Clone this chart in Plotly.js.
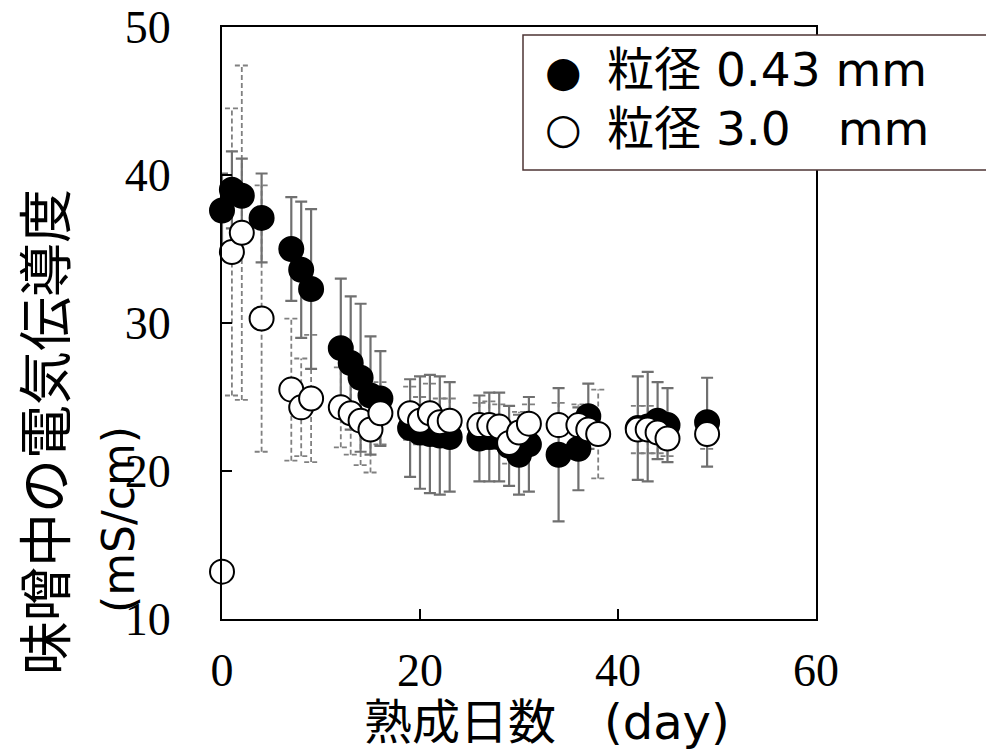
<!DOCTYPE html>
<html>
<head>
<meta charset="utf-8">
<script src="https://cdn.plot.ly/plotly-3.0.1.min.js"></script>
<style>html,body{margin:0;padding:0;background:#fff;}</style>
</head>
<body>
<div id="chart" style="width:986px;height:751px;"></div>
<script>
// 粒径 0.43 mm (black)
const daysA = [0,1,2,4,7,8,9,12,13,14,15,16,19,20,21,22,23,26,27,28,29,30,31,34,36,37,42,43,44,45,49];
const valsA = [37.6,39.0,38.6,37.1,35.0,33.6,32.3,28.3,27.3,26.3,25.1,24.9,22.9,22.6,22.5,22.4,22.3,22.2,22.3,22.3,21.7,21.1,21.8,21.1,21.5,23.7,22.9,23.0,23.4,23.1,23.3];
const errA  = [2.5,2.6,2.5,3.0,3.5,4.6,5.4,4.7,4.5,5.0,4.0,3.2,3.3,3.8,4.0,4.0,3.7,2.9,3.0,3.0,2.7,2.7,3.2,4.5,2.8,2.2,3.5,3.7,2.6,2.5,3.0];
// 粒径 3.0 mm (white)
const daysB = [0,1,2,4,7,8,9,12,13,14,15,16,19,20,21,22,23,26,27,28,29,30,31,34,36,37,38,42,43,44,45,49];
const valsB = [13.2,34.8,36.1,30.3,25.5,24.3,24.9,24.3,23.9,23.4,22.8,23.9,23.9,23.4,23.9,23.3,23.4,23.1,23.1,23.0,21.9,22.6,23.2,23.1,23.1,22.8,22.5,22.8,22.8,22.6,22.2,22.5];
const errB  = [0,9.7,11.3,9.0,4.8,3.3,4.3,2.7,2.8,3.0,2.9,2.1,1.8,1.6,2.0,1.6,1.5,1.5,1.6,1.5,1.4,1.4,1.3,1.5,1.4,1.3,3.0,1.6,1.6,1.4,1.2,1.0];

const xTicks = [0,20,40,60];
const yTicks = [10,20,30,40,50];
const legendSymbols = ["●", "○"];
const legendLabels = ["粒径 0.43 mm", "粒径 3.0　mm"];
const yTitle1 = "味噌中の電気伝導度";
const yTitle2 = "(mS/cm)";
const xTitle = "熟成日数　(day)";

// dashed error bars for series B built from its data
const capHalf = 0.7;
const ebx = [], eby = [];
daysB.forEach((d, i) => {
  const e = errB[i];
  if (e <= 0) return;
  const lo = valsB[i] - e, hi = valsB[i] + e;
  ebx.push(d, d, null, d - capHalf, d + capHalf, null, d - capHalf, d + capHalf, null);
  eby.push(lo, hi, null, hi, hi, null, lo, lo, null);
});

const traces = [
  {
    x: ebx, y: eby, mode: 'lines', type: 'scatter', hoverinfo: 'skip',
    line: {color: '#808080', width: 1.8, dash: '5px,3px'},
    showlegend: false, cliponaxis: false
  },
  {
    x: daysA, y: valsA, mode: 'markers', type: 'scatter', name: '粒径 0.43 mm',
    marker: {symbol: 'circle', size: 24, color: '#000', line: {color: '#000', width: 2}},
    error_y: {type: 'data', array: errA, visible: true, color: '#707070', thickness: 2.2, width: 6},
    showlegend: false, cliponaxis: false
  },
  {
    x: daysB, y: valsB, mode: 'markers', type: 'scatter', name: '粒径 3.0 mm',
    marker: {symbol: 'circle', size: 24, color: '#fff', line: {color: '#000', width: 2}},
    showlegend: false, cliponaxis: false
  }
];

const plotL = 222, plotR = 816, plotT = 27, plotB = 619;
const pw = plotR - plotL, ph = plotB - plotT;
const px = v => (v - plotL) / pw;
const py = v => (plotB - v) / ph;

const latinCjk = '"DejaVu Sans", "Noto Sans CJK JP", sans-serif';
const serif = '"Liberation Serif", "Times New Roman", serif';

const layout = {
  width: 986, height: 751,
  margin: {l: plotL, r: 986 - plotR, t: plotT, b: 751 - plotB, pad: 0},
  paper_bgcolor: '#fff', plot_bgcolor: '#fff',
  showlegend: false,
  xaxis: {
    range: [0, 60], tickvals: xTicks, ticktext: xTicks.map(String),
    ticks: 'inside', ticklen: 10, tickwidth: 2, tickcolor: '#000',
    showline: true, linecolor: '#000', linewidth: 2, mirror: true,
    showgrid: false, zeroline: false,
    tickfont: {family: serif, size: 46, color: '#000'},
    ticklabelstandoff: 10
  },
  yaxis: {
    range: [10, 50], tickvals: yTicks, ticktext: yTicks.map(String),
    ticks: 'inside', ticklen: 10, tickwidth: 2, tickcolor: '#000',
    showline: true, linecolor: '#000', linewidth: 2, mirror: true,
    showgrid: false, zeroline: false,
    tickfont: {family: serif, size: 46, color: '#000'},
    ticklabelstandoff: 40
  },
  shapes: [
    {type: 'rect', xref: 'paper', yref: 'paper', layer: 'above',
     x0: px(523), x1: px(1000), y0: py(170), y1: py(35),
     fillcolor: '#fff', line: {color: '#4d3535', width: 1.5}}
  ],
  annotations: [
    {text: legendSymbols[0], xref: 'paper', yref: 'paper', x: px(563), y: py(71),
     xanchor: 'center', yanchor: 'middle', showarrow: false,
     font: {family: latinCjk, size: 42, color: '#000'}},
    {text: legendSymbols[1], xref: 'paper', yref: 'paper', x: px(563), y: py(129),
     xanchor: 'center', yanchor: 'middle', showarrow: false,
     font: {family: latinCjk, size: 42, color: '#000'}},
    {text: legendLabels[0], xref: 'paper', yref: 'paper', x: px(605), y: py(70),
     xanchor: 'left', yanchor: 'middle', showarrow: false,
     font: {family: latinCjk, size: 47, color: '#000'}},
    {text: legendLabels[1], xref: 'paper', yref: 'paper', x: px(605), y: py(128),
     xanchor: 'left', yanchor: 'middle', showarrow: false,
     font: {family: latinCjk, size: 47, color: '#000'}},
    {text: yTitle1, xref: 'paper', yref: 'paper', x: px(47), y: py(432),
     xanchor: 'center', yanchor: 'middle', showarrow: false, textangle: -90,
     font: {family: latinCjk, size: 54, color: '#000'}},
    {text: yTitle2, xref: 'paper', yref: 'paper', x: px(118), y: py(520),
     xanchor: 'center', yanchor: 'middle', showarrow: false, textangle: -90,
     font: {family: latinCjk, size: 44, color: '#000'}},
    {text: xTitle, xref: 'paper', yref: 'paper', x: px(547), y: py(722),
     xanchor: 'center', yanchor: 'middle', showarrow: false,
     font: {family: latinCjk, size: 48, color: '#000'}}
  ]
};

Plotly.newPlot('chart', traces, layout, {displayModeBar: false, staticPlot: true});
</script>
</body>
</html>
